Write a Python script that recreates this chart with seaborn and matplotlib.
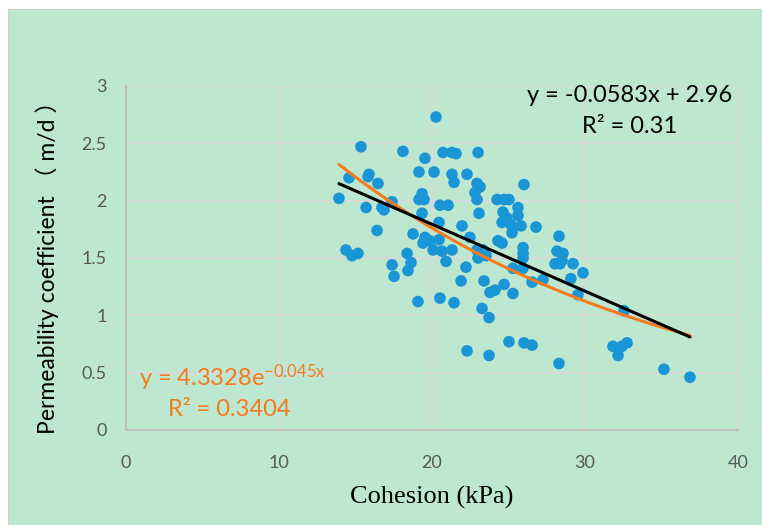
import matplotlib
matplotlib.use("Agg")
import matplotlib.pyplot as plt
import seaborn as sns
import numpy as np
import pandas as pd
from matplotlib.patches import Rectangle

# ---- data ----
cohesion = [13.92, 14.58, 14.38, 14.77, 15.16, 15.36, 15.69, 15.82, 15.88, 16.47,
            16.41, 16.73, 16.86, 17.39, 17.39, 17.52, 18.10, 18.37, 18.63, 18.43,
            18.76, 19.08, 19.15, 19.15, 19.35, 19.48, 19.54, 19.35, 19.54, 19.41,
            19.87, 20.07, 20.13, 20.26, 20.46, 20.46, 20.52, 20.52, 20.65, 20.72,
            20.92, 21.05, 21.31, 21.31, 21.57, 21.31, 21.44, 21.44, 21.96, 21.90,
            22.22, 22.29, 22.29, 22.48, 22.94, 23.14, 22.81, 22.94, 23.01, 23.07,
            22.94, 23.33, 23.53, 23.01, 23.40, 23.27, 23.73, 23.73, 23.79, 24.12,
            24.25, 24.31, 24.58, 24.64, 24.58, 24.71, 24.71, 24.90, 25.03, 25.03,
            25.16, 25.23, 25.29, 25.29, 25.62, 25.62, 25.82, 25.95, 25.95, 25.95,
            25.95, 26.01, 26.01, 26.54, 26.54, 26.80, 27.25, 28.17, 28.30, 28.56,
            28.50, 28.04, 28.37, 28.30, 29.22, 29.87, 29.08, 29.54, 31.83, 32.42,
            32.75, 32.16, 32.55, 35.16, 36.86]
permeability = [2.02, 2.20, 1.57, 1.52, 1.54, 2.47, 1.94, 2.21, 2.23, 2.15,
                1.74, 1.94, 1.92, 1.99, 1.44, 1.34, 2.43, 1.54, 1.46, 1.39,
                1.71, 1.12, 2.25, 2.01, 2.06, 2.01, 2.37, 1.89, 1.68, 1.63,
                1.65, 1.57, 2.25, 2.73, 1.81, 1.66, 1.96, 1.15, 1.56, 2.42,
                1.47, 1.96, 1.57, 2.42, 2.41, 2.23, 2.16, 1.11, 1.78, 1.30,
                1.42, 2.23, 0.69, 1.68, 2.15, 2.12, 2.07, 2.01, 2.42, 1.89,
                1.57, 1.57, 1.52, 1.50, 1.30, 1.06, 0.98, 0.65, 1.20, 1.22,
                2.01, 1.65, 1.63, 1.90, 1.81, 2.01, 1.27, 1.85, 2.01, 0.77,
                1.79, 1.72, 1.19, 1.41, 1.94, 1.87, 1.78, 1.59, 1.54, 1.50,
                1.41, 2.14, 0.76, 0.74, 1.29, 1.77, 1.31, 1.56, 1.69, 1.54,
                1.48, 1.45, 1.45, 0.58, 1.45, 1.37, 1.32, 1.18, 0.73, 0.73,
                0.76, 0.65, 1.04, 0.53, 0.46]

lin_coef = [-0.0583, 2.96]      # y = a x + b
exp_coef = [4.3328, -0.045]     # y = A e^(k x)
x_ticks = [0, 10, 20, 30, 40]
y_ticks = [0, 0.5, 1, 1.5, 2, 2.5, 3]
y_tick_labels = ["0", "0.5", "1", "1.5", "2", "2.5", "3"]

BG = "#BDE7CF"
BLUE = "#1A95D6"
ORANGE = "#F47B20"

sns.set_theme(style="white")
plt.rcParams["font.family"] = ["Lato", "DejaVu Sans"]
plt.rcParams["mathtext.default"] = "regular"

fig = plt.figure(figsize=(7.62, 5.25), dpi=100)
fig.patch.set_facecolor("white")
fig.patches.append(Rectangle((8 / 762, 0), 1 - 8 / 762, 1 - 9 / 525,
                             transform=fig.transFigure, facecolor=BG,
                             edgecolor="#D0D0D0", linewidth=0.8, zorder=-5))

ax = fig.add_axes([126 / 762, 1 - 430 / 525, (738 - 126) / 762, (430 - 86) / 525])
ax.set_facecolor(BG)
ax.set_zorder(1)

df = pd.DataFrame({"Cohesion": cohesion, "Permeability": permeability})
sns.scatterplot(data=df, x="Cohesion", y="Permeability", ax=ax, color=BLUE,
                s=70, edgecolor="none", linewidth=0, zorder=3)

xs = np.linspace(min(cohesion), max(cohesion), 200)
fit = pd.DataFrame({
    "x": xs,
    "lin": lin_coef[0] * xs + lin_coef[1],
    "exp": exp_coef[0] * np.exp(exp_coef[1] * xs),
})
sns.lineplot(data=fit, x="x", y="exp", ax=ax, color=ORANGE, linewidth=2.2, zorder=4)
sns.lineplot(data=fit, x="x", y="lin", ax=ax, color="black", linewidth=2.2, zorder=5)

ax.set_xlim(0, 40)
ax.set_ylim(0, 3)
ax.set_xticks(x_ticks)
ax.set_xticklabels([str(t) for t in x_ticks])
ax.set_yticks(y_ticks)
ax.set_yticklabels(y_tick_labels)
ax.tick_params(axis="both", length=0, labelsize=13, labelcolor="#595959")
ax.tick_params(axis="x", pad=18)
ax.tick_params(axis="y", pad=14)

ax.grid(True, color="#D9D9D9", linewidth=1.3, zorder=0)
ax.set_axisbelow(True)
for side in ["top", "right"]:
    ax.spines[side].set_visible(False)
for side in ["left", "bottom"]:
    ax.spines[side].set_color("#BFBFBF")
    ax.spines[side].set_linewidth(1.5)

ax.set_xlabel("")
ax.set_ylabel("")
fig.text(432 / 762, 1 - 497 / 525, "Cohesion (kPa)", ha="center", va="center",
         fontsize=19, family=["Liberation Serif"], color="black")
fig.text(47 / 762, 1 - 262 / 525, "Permeability coefficient （ m/d ）",
         rotation=90, ha="center", va="center", fontsize=16.5,
         family=["Lato", "Noto Sans CJK SC"], color="black")

fig.text(630 / 762, 1 - 95 / 525, "y = -0.0583x + 2.96", ha="center", va="center",
         fontsize=17, color="black", zorder=10)
fig.text(630 / 762, 1 - 127 / 525, "R² = 0.31", ha="center", va="center",
         fontsize=17, color="black", zorder=10)
fig.text(139 / 762, 1 - 378 / 525, r"y = 4.3328e$^{-0.045x}$", ha="left", va="center",
         fontsize=17, color=ORANGE, zorder=10)
fig.text(168 / 762, 1 - 410 / 525, "R² = 0.3404", ha="left", va="center",
         fontsize=17, color=ORANGE, zorder=10)

fig.savefig("out.png", dpi=100, facecolor=fig.get_facecolor())
